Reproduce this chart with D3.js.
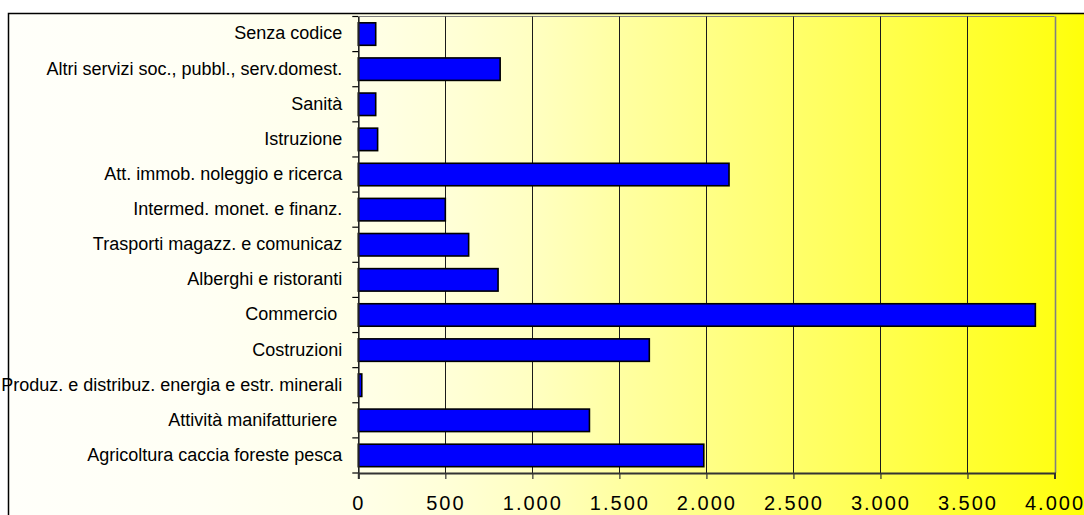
<!DOCTYPE html>
<html><head><meta charset="utf-8">
<script src="https://cdn.jsdelivr.net/npm/d3@7"></script>
<style>html,body{margin:0;padding:0;background:#fff;overflow:hidden}</style>
</head><body><svg id="c" width="1084" height="515"></svg>
<script>
const categories = ["Senza codice","Altri servizi soc., pubbl., serv.domest.","Sanità","Istruzione","Att. immob. noleggio e ricerca","Intermed. monet. e finanz.","Trasporti magazz. e comunicaz","Alberghi e ristoranti","Commercio ","Costruzioni","Produz. e distribuz. energia e estr. minerali","Attività manifatturiere ","Agricoltura caccia foreste pesca"];
const values = [100, 815, 100, 111, 2130, 500, 634, 803, 3890, 1672, 20, 1328, 1985];
const tickValues = [0, 500, 1000, 1500, 2000, 2500, 3000, 3500, 4000];

const svg = d3.select("#c");
const W = 1084, H = 515;
const plot = {left: 358.3, right: 1054.5, top: 16.5, bottom: 473};

// background gradient
const defs = svg.append("defs");
const grad = defs.append("linearGradient").attr("id","bg").attr("x1","0").attr("x2","1").attr("y1","0").attr("y2","0");
const stopsX = [9, 200, 358, 446, 533, 620, 707, 794, 881, 968, 1054, 1084];
const stopsB = [250, 244, 232, 215, 192, 160, 132, 104, 76, 46, 18, 5];
stopsX.forEach((x,i)=>{
  grad.append("stop").attr("offset", (x-9)/1075).attr("stop-color", d3.rgb(255,255,stopsB[i]).formatHex());
});
svg.append("rect").attr("x",9).attr("y",14).attr("width",W).attr("height",H).attr("fill","url(#bg)");
// outer frame (left and top visible)
svg.append("path").attr("d",`M8.5,${H+2} V13.5 H${W+2}`).attr("fill","none").attr("stroke","#000").attr("stroke-width",1.5);

const x = d3.scaleLinear().domain([0,4000]).range([plot.left, plot.right]);
const y = d3.scaleBand().domain(categories).range([plot.top, plot.bottom]).paddingInner(0.36).paddingOuter(0.18);

// plot border top
svg.append("line").attr("x1",plot.left).attr("x2",plot.right).attr("y1",plot.top).attr("y2",plot.top).attr("stroke","#808080").attr("stroke-width",1.2);

// gridlines
svg.append("g").selectAll("line").data(tickValues.slice(1)).join("line")
  .attr("x1",d=>Math.round(x(d))+0.5).attr("x2",d=>Math.round(x(d))+0.5)
  .attr("y1",plot.top).attr("y2",plot.bottom)
  .attr("stroke",d=>d===4000?"#808080":"#1a1a1a").attr("stroke-width",d=>d===4000?1.6:1);

// bars
svg.append("g").selectAll("rect").data(values).join("rect")
  .attr("x", x(0))
  .attr("y", (d,i)=>y(categories[i]))
  .attr("width", d=>x(d)-x(0))
  .attr("height", y.bandwidth())
  .attr("fill","#0000ff").attr("stroke","#000").attr("stroke-width",1.6);

// y axis
const yAxis = d3.axisLeft(y).tickSize(0).tickPadding(16);
const yg = svg.append("g").attr("transform",`translate(${plot.left},0)`).call(yAxis);
yg.select(".domain").attr("stroke","#222").attr("stroke-width",1.6);
yg.selectAll("text").attr("font-family","'Liberation Sans', Arial, sans-serif").attr("font-size","18px").attr("fill","#000")
  .style("white-space","pre").attr("dy","0.3em");
// boundary ticks on y axis
const bounds = d3.range(categories.length+1).map(i=> plot.top + i*y.step());
svg.append("g").selectAll("line").data(bounds).join("line")
  .attr("x1",plot.left-6).attr("x2",plot.left).attr("y1",d=>d).attr("y2",d=>d)
  .attr("stroke","#000").attr("stroke-width",1.2);

// x axis
const fmt = d3.formatLocale({decimal:",",thousands:".",grouping:[3],currency:["","€"]}).format(",");
const xAxis = d3.axisBottom(x).tickValues(tickValues).tickFormat(fmt).tickSize(6).tickPadding(17);
const xg = svg.append("g").attr("transform",`translate(0,${plot.bottom})`).call(xAxis);
xg.select(".domain").attr("stroke","#333").attr("stroke-width",2);
xg.selectAll(".tick line").attr("stroke","#333").attr("stroke-width",1.2);
xg.selectAll("text").attr("font-family","'Liberation Sans', Arial, sans-serif").attr("font-size","20px").attr("fill","#000")
  .attr("letter-spacing","2px").attr("dy","0.71em");
</script></body></html>
